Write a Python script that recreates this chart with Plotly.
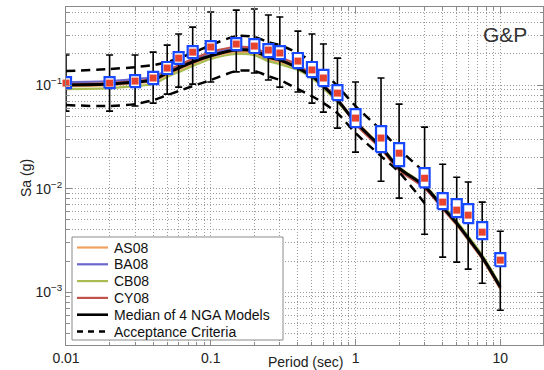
import plotly.graph_objects as go

# ---------------- data ----------------
periods = [0.01, 0.02, 0.03, 0.04, 0.05, 0.06, 0.075, 0.1, 0.15, 0.2, 0.25, 0.3, 0.4,
           0.5, 0.6, 0.75, 1.0, 1.5, 2.0, 3.0, 4.0, 5.0, 6.0, 7.5, 10.0]

as08 = [0.0978, 0.1000, 0.1046, 0.1093, 0.1253, 0.1397, 0.1597, 0.1865, 0.2085, 0.2037, 0.1779,
        0.1664, 0.1493, 0.1247, 0.1000, 0.0732, 0.0449, 0.0258, 0.0158, 0.01057, 0.00634,
        0.00444, 0.00318, 0.00209, 0.00107]
ba08 = [0.1069, 0.1093, 0.1144, 0.1195, 0.1400, 0.1527, 0.1746, 0.2039, 0.2229, 0.2178, 0.1902,
        0.1779, 0.1460, 0.1220, 0.0978, 0.0716, 0.0439, 0.0252, 0.0158, 0.01034, 0.00648,
        0.00454, 0.00325, 0.00213, 0.00110]
cb08 = [0.0915, 0.0935, 0.0979, 0.1023, 0.1199, 0.1336, 0.1528, 0.1784, 0.1995, 0.1949, 0.1702,
        0.1592, 0.1397, 0.1167, 0.0935, 0.0685, 0.0439, 0.0258, 0.0162, 0.0108, 0.00693,
        0.00485, 0.00347, 0.00228, 0.00117]
cy08 = [0.1022, 0.1045, 0.1094, 0.1143, 0.1340, 0.1561, 0.1785, 0.2085, 0.2331, 0.2277, 0.1988,
        0.1860, 0.1561, 0.1247, 0.1000, 0.0732, 0.0420, 0.0241, 0.0151, 0.0101, 0.00648,
        0.00454, 0.00325, 0.00213, 0.00110]
median = [0.1000, 0.1022, 0.1070, 0.1118, 0.1310, 0.1460, 0.1670, 0.1920, 0.2180, 0.2130, 0.1860,
          0.1740, 0.1460, 0.1220, 0.0978, 0.0716, 0.0439, 0.0252, 0.0158, 0.01057, 0.00663,
          0.00464, 0.00332, 0.00218, 0.00112]

crit_periods = [0.01, 0.02, 0.03, 0.04, 0.05, 0.06, 0.075, 0.1, 0.15, 0.2, 0.25, 0.3, 0.4,
                0.5, 0.6, 0.75, 1.0, 1.5, 2.0, 3.0]
crit_upper = [0.1365, 0.143, 0.149, 0.156, 0.167, 0.182, 0.204, 0.243, 0.297, 0.291, 0.260,
              0.243, 0.204, 0.167, 0.134, 0.0978, 0.0627, 0.0367, 0.0241, 0.0144]
crit_lower = [0.0641, 0.0627, 0.0655, 0.0716, 0.0800, 0.0875, 0.0978, 0.1118, 0.1365, 0.1365,
              0.1220, 0.1118, 0.0915, 0.0783, 0.0670, 0.0536, 0.0344, 0.0206, 0.0144, 0.00724]

# record suite (mean, +/- bars, box range)
rec_mean = [0.1045, 0.1045, 0.1093, 0.117, 0.146, 0.182, 0.208, 0.233, 0.249, 0.238, 0.218,
            0.204, 0.1705, 0.140, 0.117, 0.0837, 0.048, 0.0308, 0.022, 0.0126, 0.00741,
            0.0062, 0.00555, 0.0038, 0.00204]
rec_hi = [0.195, 0.195, 0.195, 0.208, 0.243, 0.311, 0.363, 0.507, 0.530, 0.542, 0.475, 0.454,
          0.332, 0.311, 0.249, 0.182, 0.107, 0.117, 0.0655, 0.0393, 0.0172, 0.0129, 0.0116,
          0.00741, 0.00388]
rec_lo = [0.0561, 0.0561, 0.0627, 0.067, 0.0818, 0.0956, 0.1022, 0.107, 0.134, 0.131, 0.1118,
          0.0956, 0.0856, 0.067, 0.0548, 0.0384, 0.0225, 0.0118, 0.0081, 0.00363, 0.00218,
          0.00195, 0.00167, 0.00122, 0.00067]
box_hi = [0.1195, 0.1195, 0.125, 0.134, 0.167, 0.208, 0.238, 0.266, 0.284, 0.278, 0.249, 0.238,
          0.204, 0.167, 0.140, 0.100, 0.0586, 0.0402, 0.0275, 0.0158, 0.00905, 0.00792,
          0.00708, 0.00475, 0.00238]
box_lo = [0.0935, 0.0935, 0.0956, 0.1022, 0.128, 0.160, 0.182, 0.204, 0.218, 0.204, 0.186,
          0.178, 0.146, 0.1195, 0.0978, 0.0716, 0.0393, 0.0225, 0.0165, 0.0103, 0.00634,
          0.0053, 0.00464, 0.00325, 0.00178]

x_ticks = [0.01, 0.1, 1, 10]
x_ticktext = ["0.01", "0.1", "1", "10"]
y_ticks = [0.001, 0.01, 0.1]
y_ticktext = ["10<sup>\u22123</sup>", "10<sup>\u22122</sup>", "10<sup>\u22121</sup>"]

legend_names = ["AS08", "BA08", "CB08", "CY08", "Median of 4 NGA Models", "Acceptance Criteria"]

# ---------------- styles ----------------
FONT = "Liberation Sans, Arial, Helvetica, sans-serif"
BOX_F = 1.083  # half-width factor of the record boxes on the log period axis
C_AS, C_BA, C_CB, C_CY = "#f0a060", "#6a68cc", "#a8bc52", "#c0544c"
BLUE, RED = "#1848ff", "#e8432f"
GRID = "#8a8a8a"
GRIDDOT = "#9a9a9a"
DASH = "9px,6px"

W, H = 544, 370
ML, MR, MT, MB = 66, 1, 7, 25
PW, PH = W - ML - MR, H - MT - MB


def px(xp):
    return (xp - ML) / PW


def py(yp):
    return (H - MB - yp) / PH


fig = go.Figure()

model_styles = [(as08, C_AS), (ba08, C_BA), (cb08, C_CB), (cy08, C_CY)]
for (ys, col), name in zip(model_styles, legend_names[:4]):
    fig.add_trace(go.Scatter(x=periods, y=ys, mode="lines", name=name, showlegend=False,
                             line=dict(color=col, width=2.2, shape="spline", smoothing=0.8)))

fig.add_trace(go.Scatter(x=periods, y=median, mode="lines", name=legend_names[4],
                         showlegend=False,
                         line=dict(color="black", width=3, shape="spline", smoothing=0.8)))
for ys in (crit_upper, crit_lower):
    fig.add_trace(go.Scatter(x=crit_periods, y=ys, mode="lines", name=legend_names[5],
                             showlegend=False,
                             line=dict(color="black", width=2.5, dash=DASH, shape="spline",
                                       smoothing=0.8)))

# error bars
fig.add_trace(go.Scatter(
    x=periods, y=rec_mean, mode="markers", showlegend=False, hoverinfo="skip",
    marker=dict(size=1, opacity=0),
    error_y=dict(type="data", symmetric=False,
                 array=[h - m for h, m in zip(rec_hi, rec_mean)],
                 arrayminus=[m - l for m, l in zip(rec_mean, rec_lo)],
                 color="black", thickness=1.6, width=3.5)))

# boxes
bx, by = [], []
for p, lo, hi in zip(periods, box_lo, box_hi):
    x0, x1 = p / BOX_F, p * BOX_F
    bx += [x0, x1, x1, x0, x0, None]
    by += [lo, lo, hi, hi, lo, None]
fig.add_trace(go.Scatter(x=bx, y=by, mode="lines", fill="toself", fillcolor="white",
                         line=dict(color=BLUE, width=2.2), showlegend=False, hoverinfo="skip"))

fig.add_trace(go.Scatter(x=periods, y=rec_mean, mode="markers", showlegend=False,
                         cliponaxis=False,
                         marker=dict(symbol="square", size=7, color=RED, line=dict(width=0))))

axis_common = dict(
    type="log", showline=True, mirror="ticks", linecolor=GRID, linewidth=1,
    ticks="inside", ticklen=6, tickcolor=GRID, tickwidth=1,
    showgrid=True, gridcolor=GRIDDOT, gridwidth=1, griddash="1px,2px",
    zeroline=False, tickfont=dict(family=FONT, size=14, color="#222"),
)

minor_x = [m * d for d in [0.01, 0.1, 1, 10] for m in range(2, 10) if m * d < 20]
minor_y = [m * d for d in [0.0001, 0.001, 0.01, 0.1] for m in range(2, 10)]

fig.update_xaxes(**axis_common, range=[-2, 1.295], tickmode="array", tickvals=x_ticks,
                 ticktext=x_ticktext,
                 minor=dict(tickmode="array", tickvals=minor_x, ticks="inside", ticklen=3,
                            tickcolor=GRID, showgrid=True, gridcolor=GRIDDOT, griddash="1px,2px"))
fig.update_yaxes(**axis_common, range=[-3.51, -0.246], tickmode="array", tickvals=y_ticks,
                 ticktext=y_ticktext,
                 minor=dict(tickmode="array", tickvals=minor_y, ticks="inside", ticklen=3,
                            tickcolor=GRID, showgrid=True, gridcolor=GRIDDOT, griddash="1px,2px"))

# ---------------- legend (drawn manually for compact MATLAB-like spacing) ----------------
shapes = [dict(type="rect", xref="paper", yref="paper", x0=px(72), x1=px(283),
               y0=py(340), y1=py(237), fillcolor="white", line=dict(color=GRID, width=1),
               layer="above")]
annotations = []
leg_styles = [(C_AS, 2.2, "solid"), (C_BA, 2.2, "solid"), (C_CB, 2.2, "solid"),
              (C_CY, 2.2, "solid"), ("black", 2.6, "solid"), ("black", 2.6, "6px,5px")]
row0, drow = 247.5, 16.8
for i, (name, (col, lw, dash)) in enumerate(zip(legend_names, leg_styles)):
    yy = py(row0 + i * drow)
    shapes.append(dict(type="line", xref="paper", yref="paper", x0=px(77), x1=px(108),
                       y0=yy, y1=yy, line=dict(color=col, width=lw, dash=dash),
                       layer="above"))
    annotations.append(dict(text=name, xref="paper", yref="paper", x=px(112), y=yy,
                            xanchor="left", yanchor="middle", showarrow=False,
                            font=dict(family=FONT, size=14, color="#111")))

annotations += [
    dict(text="Period (sec)", xref="paper", yref="paper", x=px(305), y=py(362),
         xanchor="center", yanchor="middle", showarrow=False,
         font=dict(family=FONT, size=14, color="#222")),
    dict(text="Sa (g)", xref="paper", yref="paper", x=px(26), y=py(178),
         xanchor="center", yanchor="middle", showarrow=False, textangle=-90,
         font=dict(family=FONT, size=14, color="#222")),
    dict(text="G&P", xref="paper", yref="paper", x=px(505), y=py(35),
         xanchor="center", yanchor="middle", showarrow=False,
         font=dict(family=FONT, size=21, color="#333")),
]

fig.update_layout(
    width=W, height=H,
    margin=dict(l=ML, r=MR, t=MT, b=MB),
    paper_bgcolor="white", plot_bgcolor="white",
    font=dict(family=FONT, size=14, color="#222"),
    showlegend=False,
    shapes=shapes,
    annotations=annotations,
)

fig.write_html("out.html")
